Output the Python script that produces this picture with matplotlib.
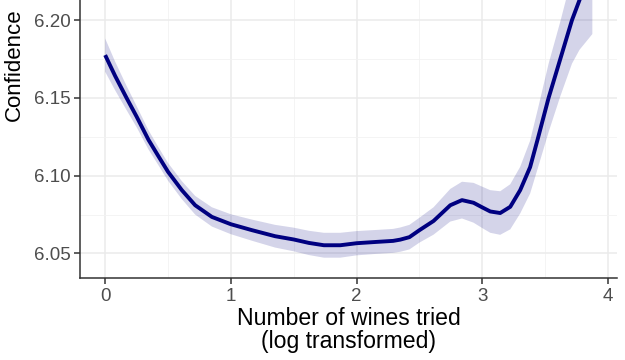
import matplotlib
matplotlib.use("Agg")
import matplotlib.pyplot as plt
from matplotlib.ticker import MultipleLocator

plt.rcParams['font.family'] = ['Liberation Sans', 'DejaVu Sans']

# log(number of wines tried) vs smoothed confidence
wines_log = [0.0, 0.08, 0.17, 0.25, 0.345, 0.42, 0.5, 0.61, 0.716, 0.849,
             1.0, 1.167, 1.352, 1.5, 1.62, 1.74, 1.87, 2.0, 2.15, 2.29,
             2.347, 2.42, 2.5, 2.612, 2.745, 2.838, 2.93, 3.0, 3.063, 3.142,
             3.222, 3.301, 3.38, 3.442, 3.527, 3.62, 3.713, 3.773, 3.875]
conf_fit = [6.1775, 6.164, 6.150, 6.138, 6.123, 6.113, 6.1025, 6.0907, 6.081, 6.0735,
            6.0688, 6.065, 6.0611, 6.0590, 6.0568, 6.0553, 6.0553, 6.0566, 6.0574, 6.0581,
            6.0589, 6.0605, 6.065, 6.0709, 6.081, 6.0843, 6.0826, 6.0796, 6.077, 6.076,
            6.080, 6.0907, 6.1055, 6.124, 6.150, 6.175, 6.200, 6.2129, 6.237]
conf_se = [0.0107, 0.0092, 0.0078, 0.0068, 0.0062, 0.0058, 0.0057, 0.0058, 0.006, 0.0062,
           0.0064, 0.0068, 0.0073, 0.0076, 0.0078, 0.008, 0.008, 0.0078, 0.0077, 0.0077,
           0.0078, 0.0079, 0.008, 0.0088, 0.0105, 0.0118, 0.0128, 0.0133, 0.0137, 0.014,
           0.0145, 0.015, 0.017, 0.019, 0.022, 0.024, 0.028, 0.032, 0.046]

lower = [f - s for f, s in zip(conf_fit, conf_se)]
upper = [f + s for f, s in zip(conf_fit, conf_se)]

fig = plt.figure(figsize=(6.25, 3.6), dpi=100)
ax = fig.add_axes([0.128, 0.228, 0.859, 0.772])

ax.fill_between(wines_log, lower, upper, color='#000080', alpha=0.17, lw=0)
ax.plot(wines_log, conf_fit, color='#000080', lw=2.8,
        solid_capstyle='butt', solid_joinstyle='round')

ax.set_xlim(-0.2, 4.07)
ax.set_ylim(6.0343, 6.2129)
ax.xaxis.set_major_locator(MultipleLocator(1))
ax.xaxis.set_minor_locator(MultipleLocator(0.5))
ax.yaxis.set_major_locator(MultipleLocator(0.05))
ax.yaxis.set_minor_locator(MultipleLocator(0.025))
ax.yaxis.set_major_formatter(plt.FuncFormatter(lambda v, p: f'{v:.2f}'))

ax.grid(which='major', color='#ebebeb', lw=1.1)
ax.grid(which='minor', color='#f2f2f2', lw=0.6)
ax.set_axisbelow(True)

for s in ['top', 'right']:
    ax.spines[s].set_visible(False)
for s in ['left', 'bottom']:
    ax.spines[s].set_color('#333333')
    ax.spines[s].set_linewidth(1.1)

ax.tick_params(which='major', length=4, width=1.1, color='#333333',
               labelcolor='#4d4d4d', labelsize=13.5, pad=3)
ax.tick_params(which='minor', length=0)

ax.set_xlabel('Number of wines tried\n(log transformed)', fontsize=16.6,
              color='black', linespacing=1.0, labelpad=2)
ax.set_ylabel('Confidence', fontsize=16, color='black')
ax.yaxis.set_label_coords(-0.102, 0.766)

fig.savefig('out.png', dpi=100)
